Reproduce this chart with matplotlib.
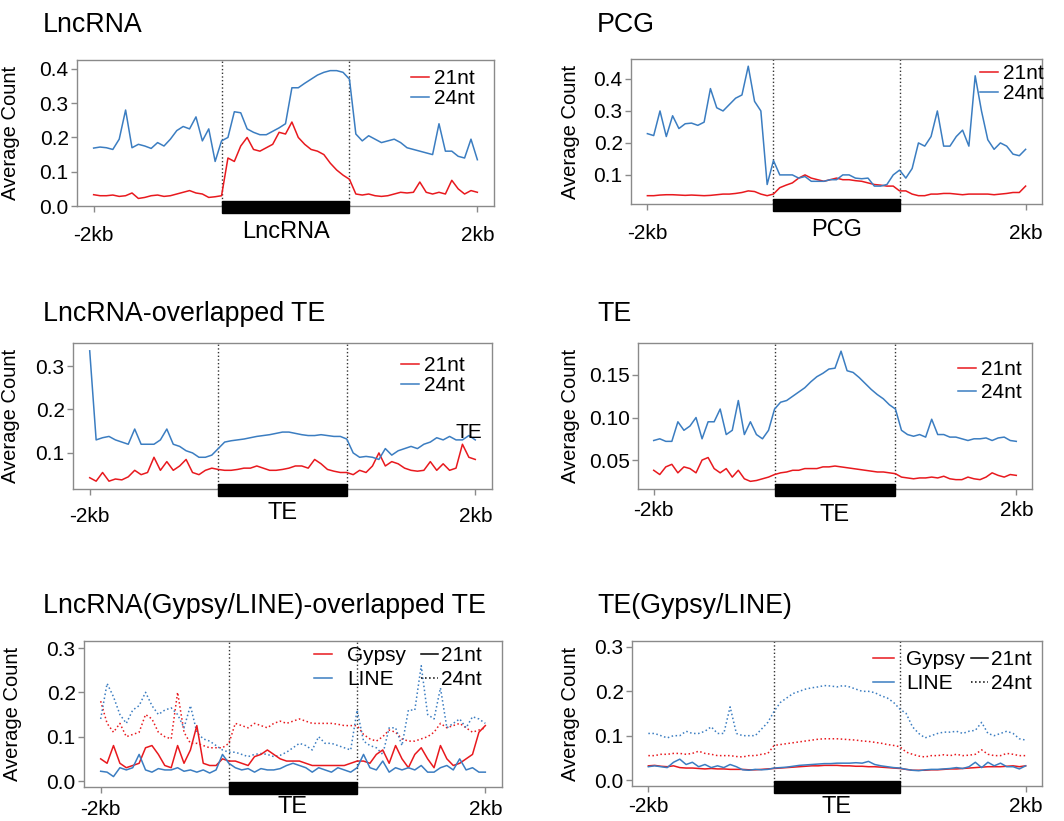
import numpy as np
import matplotlib
matplotlib.use("Agg")
import matplotlib.pyplot as plt
from matplotlib.patches import Rectangle
from matplotlib.lines import Line2D
from matplotlib.legend import Legend
import matplotlib.transforms as mtransforms

plt.rcParams['font.family'] = ['Liberation Sans', 'DejaVu Sans']

# ---------------- data (61 evenly spaced bins: -2kb .. body .. 2kb) ----------------
lnc_21 = [0.033,0.030,0.030,0.032,0.028,0.030,0.038,0.022,0.025,0.030,
          0.032,0.028,0.030,0.035,0.040,0.045,0.038,0.035,0.025,0.027,
          0.030,0.140,0.130,0.175,0.200,0.165,0.160,0.170,0.180,0.215,
          0.210,0.245,0.200,0.180,0.165,0.160,0.150,0.125,0.105,0.090,
          0.078,0.035,0.032,0.035,0.030,0.028,0.030,0.035,0.040,0.038,
          0.040,0.070,0.040,0.035,0.040,0.035,0.075,0.050,0.035,0.045,0.040]
lnc_24 = [0.169,0.172,0.170,0.165,0.195,0.280,0.170,0.180,0.175,0.168,
          0.185,0.175,0.195,0.220,0.232,0.225,0.260,0.190,0.225,0.130,
          0.190,0.200,0.275,0.272,0.225,0.215,0.208,0.208,0.218,0.228,
          0.240,0.345,0.345,0.358,0.370,0.382,0.390,0.395,0.395,0.390,
          0.370,0.210,0.190,0.205,0.195,0.185,0.190,0.195,0.185,0.170,
          0.165,0.160,0.155,0.150,0.240,0.160,0.160,0.145,0.140,0.195,0.135]

pcg_21 = [0.035,0.035,0.037,0.038,0.038,0.037,0.036,0.037,0.036,0.035,
          0.036,0.038,0.040,0.040,0.042,0.045,0.050,0.048,0.040,0.035,
          0.040,0.060,0.068,0.075,0.090,0.100,0.090,0.085,0.080,0.085,
          0.090,0.085,0.085,0.082,0.080,0.075,0.070,0.068,0.065,0.065,
          0.050,0.050,0.040,0.035,0.035,0.040,0.040,0.042,0.042,0.040,
          0.038,0.040,0.040,0.040,0.040,0.038,0.040,0.042,0.045,0.045,0.065]
pcg_24 = [0.229,0.223,0.300,0.220,0.285,0.245,0.260,0.262,0.255,0.265,
          0.370,0.310,0.300,0.320,0.340,0.350,0.440,0.330,0.300,0.070,
          0.145,0.100,0.100,0.100,0.090,0.095,0.080,0.080,0.080,0.085,
          0.085,0.100,0.100,0.090,0.088,0.090,0.065,0.065,0.070,0.100,
          0.115,0.090,0.120,0.200,0.190,0.220,0.300,0.190,0.190,0.220,
          0.240,0.190,0.410,0.300,0.210,0.180,0.200,0.190,0.165,0.160,0.180]

ote_21 = [0.043,0.035,0.055,0.035,0.040,0.038,0.045,0.060,0.050,0.055,
          0.090,0.060,0.080,0.060,0.070,0.085,0.055,0.050,0.060,0.065,
          0.062,0.060,0.060,0.062,0.065,0.065,0.070,0.065,0.060,0.060,
          0.062,0.065,0.070,0.070,0.065,0.085,0.075,0.062,0.058,0.055,
          0.055,0.050,0.060,0.055,0.070,0.100,0.070,0.080,0.075,0.065,
          0.060,0.058,0.060,0.080,0.060,0.075,0.060,0.065,0.120,0.090,0.085]
ote_24 = [0.335,0.130,0.135,0.138,0.130,0.125,0.120,0.155,0.120,0.120,
          0.120,0.130,0.155,0.120,0.115,0.105,0.100,0.090,0.090,0.095,
          0.110,0.125,0.128,0.130,0.132,0.135,0.138,0.140,0.142,0.145,
          0.148,0.148,0.145,0.142,0.140,0.140,0.142,0.140,0.138,0.138,
          0.132,0.100,0.090,0.092,0.090,0.085,0.110,0.095,0.105,0.110,
          0.115,0.110,0.120,0.125,0.135,0.130,0.138,0.130,0.130,0.140,0.130]

te_21 = [0.038,0.033,0.042,0.045,0.035,0.042,0.040,0.035,0.050,0.053,
         0.040,0.035,0.040,0.030,0.038,0.028,0.025,0.026,0.028,0.030,
         0.033,0.035,0.036,0.038,0.038,0.040,0.040,0.040,0.042,0.042,
         0.043,0.042,0.041,0.040,0.039,0.038,0.037,0.036,0.036,0.035,
         0.034,0.030,0.029,0.028,0.029,0.029,0.030,0.029,0.031,0.028,
         0.027,0.027,0.030,0.028,0.027,0.030,0.035,0.032,0.030,0.033,0.032]
te_24 = [0.073,0.075,0.072,0.072,0.095,0.085,0.090,0.100,0.075,0.095,
         0.095,0.110,0.080,0.085,0.120,0.080,0.095,0.080,0.075,0.085,
         0.110,0.118,0.120,0.125,0.130,0.135,0.142,0.148,0.152,0.157,
         0.158,0.178,0.155,0.153,0.147,0.140,0.133,0.127,0.122,0.115,
         0.110,0.085,0.080,0.078,0.080,0.077,0.098,0.080,0.080,0.077,
         0.077,0.075,0.073,0.075,0.075,0.076,0.073,0.076,0.077,0.073,0.072]

olgl_gypsy_21 = [0.050,0.040,0.080,0.040,0.030,0.035,0.040,0.075,0.080,0.060,
                 0.035,0.030,0.080,0.040,0.070,0.125,0.040,0.035,0.035,0.050,
                 0.045,0.045,0.040,0.035,0.055,0.060,0.070,0.060,0.050,0.045,
                 0.045,0.045,0.040,0.035,0.035,0.035,0.035,0.035,0.035,0.040,
                 0.045,0.045,0.040,0.060,0.070,0.040,0.080,0.050,0.030,0.060,
                 0.075,0.050,0.030,0.080,0.050,0.035,0.040,0.050,0.060,0.110,0.125]
olgl_line_21 = [0.022,0.020,0.010,0.030,0.025,0.030,0.060,0.025,0.020,0.028,
                0.025,0.025,0.030,0.022,0.025,0.020,0.025,0.018,0.025,0.060,
                0.040,0.030,0.025,0.028,0.020,0.028,0.025,0.025,0.028,0.035,
                0.040,0.035,0.030,0.020,0.030,0.025,0.020,0.030,0.025,0.020,
                0.030,0.060,0.030,0.025,0.045,0.020,0.030,0.025,0.030,0.025,
                0.035,0.020,0.020,0.030,0.035,0.025,0.050,0.025,0.030,0.020,0.020]
olgl_gypsy_24 = [0.180,0.130,0.110,0.130,0.100,0.105,0.110,0.150,0.140,0.110,
                 0.100,0.095,0.200,0.110,0.085,0.085,0.080,0.075,0.075,0.075,
                 0.085,0.130,0.125,0.120,0.130,0.125,0.120,0.130,0.135,0.130,
                 0.135,0.140,0.135,0.130,0.130,0.130,0.130,0.128,0.125,0.125,
                 0.125,0.105,0.095,0.090,0.100,0.115,0.110,0.095,0.090,0.090,
                 0.095,0.100,0.110,0.130,0.120,0.125,0.130,0.120,0.110,0.115,0.120]
olgl_line_24 = [0.140,0.220,0.190,0.150,0.130,0.160,0.170,0.200,0.170,0.150,
                0.160,0.165,0.150,0.120,0.170,0.110,0.095,0.090,0.080,0.070,
                0.065,0.065,0.060,0.055,0.060,0.062,0.060,0.055,0.058,0.065,
                0.075,0.085,0.080,0.070,0.100,0.085,0.085,0.080,0.075,0.070,
                0.160,0.090,0.080,0.075,0.060,0.120,0.120,0.080,0.160,0.160,
                0.260,0.150,0.140,0.210,0.120,0.130,0.140,0.120,0.145,0.140,0.130]

tegl_gypsy_21 = [0.032,0.033,0.031,0.030,0.032,0.028,0.027,0.027,0.026,0.025,
                 0.026,0.025,0.025,0.024,0.024,0.024,0.023,0.023,0.024,0.025,
                 0.026,0.027,0.028,0.029,0.030,0.031,0.032,0.032,0.033,0.033,
                 0.033,0.032,0.032,0.031,0.031,0.030,0.030,0.029,0.028,0.027,
                 0.026,0.024,0.022,0.022,0.022,0.023,0.023,0.024,0.025,0.025,
                 0.026,0.027,0.028,0.029,0.030,0.030,0.030,0.031,0.032,0.030,0.032]
tegl_line_21 = [0.030,0.032,0.030,0.028,0.040,0.047,0.035,0.040,0.030,0.035,
                0.028,0.032,0.028,0.035,0.030,0.023,0.022,0.024,0.023,0.024,
                0.027,0.028,0.029,0.031,0.033,0.034,0.035,0.036,0.037,0.037,
                0.038,0.038,0.038,0.039,0.038,0.042,0.035,0.032,0.030,0.028,
                0.027,0.024,0.022,0.021,0.023,0.024,0.024,0.025,0.026,0.028,
                0.026,0.030,0.040,0.028,0.040,0.032,0.038,0.030,0.030,0.025,0.032]
tegl_gypsy_24 = [0.055,0.055,0.058,0.058,0.060,0.060,0.058,0.060,0.065,0.060,
                 0.058,0.055,0.055,0.055,0.053,0.052,0.055,0.055,0.058,0.060,
                 0.078,0.080,0.082,0.084,0.086,0.088,0.090,0.092,0.093,0.093,
                 0.093,0.092,0.091,0.090,0.088,0.087,0.085,0.083,0.080,0.078,
                 0.075,0.063,0.058,0.054,0.052,0.055,0.055,0.057,0.055,0.058,
                 0.055,0.056,0.058,0.068,0.058,0.055,0.055,0.060,0.058,0.055,0.055]
tegl_line_24 = [0.105,0.105,0.100,0.095,0.100,0.100,0.110,0.105,0.105,0.110,
                0.120,0.105,0.105,0.165,0.105,0.100,0.100,0.100,0.115,0.130,
                0.155,0.175,0.185,0.195,0.200,0.205,0.208,0.210,0.213,0.212,
                0.210,0.213,0.210,0.205,0.200,0.200,0.197,0.190,0.185,0.175,
                0.160,0.150,0.120,0.105,0.095,0.100,0.105,0.108,0.108,0.110,
                0.105,0.110,0.112,0.130,0.105,0.100,0.105,0.110,0.105,0.093,0.090]

titles = ["LncRNA", "PCG", "LncRNA-overlapped TE", "TE",
          "LncRNA(Gypsy/LINE)-overlapped TE", "TE(Gypsy/LINE)"]
body_labels = ["LncRNA", "PCG", "TE", "TE", "TE", "TE"]
xtick_labels = ["-2kb", "2kb"]
yticks_list = [[0.0, 0.1, 0.2, 0.3, 0.4], [0.1, 0.2, 0.3, 0.4], [0.1, 0.2, 0.3],
               [0.05, 0.10, 0.15], [0.0, 0.1, 0.2, 0.3], [0.0, 0.1, 0.2, 0.3]]
ytick_fmt = ["%.1f", "%.1f", "%.1f", "%.2f", "%.1f", "%.1f"]
ylims = [(0.0, 0.426), (0.009, 0.4625), (0.017, 0.353), (0.016, 0.1876),
         (-0.0135, 0.3158), (-0.0135, 0.3135)]

# ---------------- style / layout ----------------
W, H = 1064, 821
RED = '#E8191E'
BLUE = '#3B7DC1'
GRAY = '#8a8a8a'

fig = plt.figure(figsize=(W / 100, H / 100), dpi=100)

boxes = [(77, 60, 494, 206), (631, 59, 1042, 204),
         (73, 343, 492, 489), (638, 343, 1032, 489),
         (84, 641, 502, 787), (632, 641, 1042, 786)]
title_pos = [(43, 32), (597, 32), (43, 321), (597, 321), (43, 613), (597, 613)]
ylabel_x = [20, 580, 20, 580, 22, 580]
tick_off = [26, 26, 24, 18, 19, 17]     # px below the axis (label centre)
body_off = [26, 26, 24, 26, 20, 21]
legend_pos = [(411, 69), (980, 64), (401, 356), (958, 360)]
legend_sp = [0.05, 0.05, 0.05, 0.2]

x = np.linspace(0, 3, len(lnc_21))


def make_axes(i):
    x0, y0, x1, y1 = boxes[i]
    ax = fig.add_axes([x0 / W, 1 - y1 / H, (x1 - x0) / W, (y1 - y0) / H])
    ax.set_xlim(-0.13, 3.13)
    ax.set_ylim(*ylims[i])
    for s in ax.spines.values():
        s.set_color(GRAY)
        s.set_linewidth(1.0)
    ax.set_xticks([0, 3])
    ax.set_xticklabels(xtick_labels)
    ax.set_yticks(yticks_list[i])
    ax.set_yticklabels([ytick_fmt[i] % v for v in yticks_list[i]])
    ax.tick_params(axis='both', colors=GRAY, labelcolor='black', labelsize=15,
                   length=4, width=1)
    ax.tick_params(axis='x', pad=(tick_off[i] - 12) / 1.389)
    ax.tick_params(axis='y', pad=2)
    ax.set_ylabel("Average Count", fontsize=14.5)
    ax.yaxis.set_label_coords((ylabel_x[i] - x0) / (x1 - x0), 0.5)
    for xv in (1, 2):
        ax.axvline(xv, color='#333333', ls=':', lw=1.0, zorder=1)
    trans = mtransforms.blended_transform_factory(ax.transData, ax.transAxes)
    ax.add_patch(Rectangle((1, -0.045), 1, 0.082, transform=trans,
                           facecolor='black', edgecolor='black', clip_on=False, zorder=5))
    ax.annotate(body_labels[i], xy=(1.5, 0), xycoords=trans, xytext=(0, -body_off[i]),
                textcoords='offset pixels', ha='center', va='center', fontsize=17,
                annotation_clip=False)
    fig.text(title_pos[i][0] / W, 1 - title_pos[i][1] / H, titles[i],
             fontsize=19.3, ha='left', va='baseline')
    return ax


def legend_at(ax, px, py, handles, labels, textpad, hlen, spacing):
    leg = Legend(ax, handles, labels, loc='upper left',
                 bbox_to_anchor=(px / W, 1 - py / H),
                 bbox_transform=fig.transFigure, frameon=False, fontsize=15,
                 handlelength=hlen, handletextpad=textpad, labelspacing=spacing,
                 borderpad=0, borderaxespad=0)
    ax.add_artist(leg)
    return leg


simple = [(lnc_21, lnc_24), (pcg_21, pcg_24), (ote_21, ote_24), (te_21, te_24)]
for i, (s21, s24) in enumerate(simple):
    ax = make_axes(i)
    l1, = ax.plot(x, s21, color=RED, lw=1.1, zorder=3)
    l2, = ax.plot(x, s24, color=BLUE, lw=1.1, zorder=3)
    legend_at(ax, legend_pos[i][0], legend_pos[i][1], [l1, l2], ["21nt", "24nt"],
              0.25, 0.85, legend_sp[i])
    if i == 2:
        ax.text(2.95, 0.148, "TE", fontsize=15, ha='center', va='center')

multi = [(olgl_gypsy_21, olgl_line_21, olgl_gypsy_24, olgl_line_24),
         (tegl_gypsy_21, tegl_line_21, tegl_gypsy_24, tegl_line_24)]
# (x of colour legend, x of size legend, top y)
multi_leg = [(314, 421, 646), (873, 971, 650)]
multi_pad = [(0.75, 0.85), (0.6, 1.0)]
for j, (g21, l21, g24, l24) in enumerate(multi):
    i = 4 + j
    ax = make_axes(i)
    ax.plot(x, g24, color=RED, lw=1.1, ls=':', zorder=3)
    ax.plot(x, l24, color=BLUE, lw=1.1, ls=':', zorder=3)
    ax.plot(x, g21, color=RED, lw=1.1, zorder=3)
    ax.plot(x, l21, color=BLUE, lw=1.1, zorder=3)
    colour_handles = [Line2D([], [], color=RED, lw=1.1), Line2D([], [], color=BLUE, lw=1.1)]
    size_handles = [Line2D([], [], color='black', lw=1.1),
                    Line2D([], [], color='black', lw=1.1, ls=':')]
    cx, sx, ty = multi_leg[j]
    legend_at(ax, cx, ty, colour_handles, ["Gypsy", "LINE"],
              multi_pad[j][0], multi_pad[j][1], 0.25)
    legend_at(ax, sx, ty, size_handles, ["21nt", "24nt"], 0.15, 0.8, 0.25)

fig.savefig("out.png", dpi=100, facecolor='white')
